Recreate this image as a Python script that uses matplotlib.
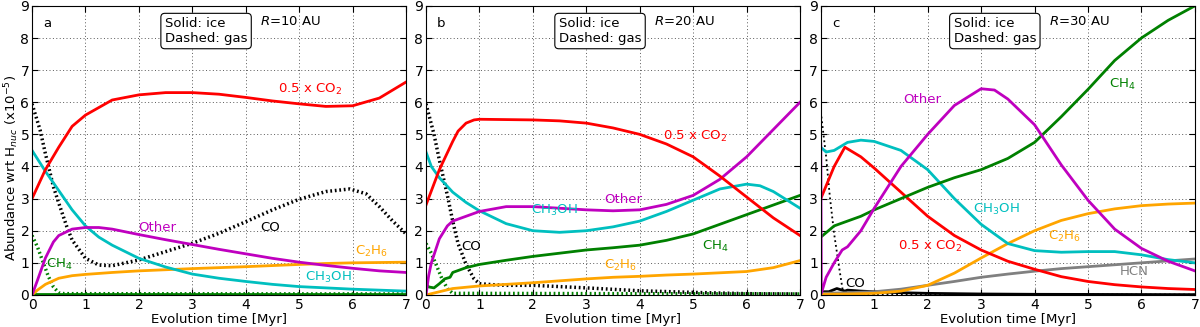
import numpy as np
import matplotlib
matplotlib.use('Agg')
from matplotlib import pyplot as plt

# ---------------- panel a : R = 10 AU ----------------
a_co2_t = [0, 0.25, 0.5, 0.75, 1, 1.5, 2, 2.5, 3, 3.5, 4, 4.5, 5, 5.5, 6, 6.5, 7]
a_co2 = [3.0, 3.9, 4.6, 5.25, 5.6, 6.07, 6.23, 6.3, 6.3, 6.25, 6.15, 6.04, 5.95, 5.87, 5.89, 6.13, 6.63]

a_cog_t = [0, 0.15, 0.25, 0.4, 0.5, 0.65, 0.75, 1, 1.25, 1.5, 2, 2.5, 3, 3.5, 4, 4.5, 5, 5.5, 5.95, 6.25, 6.5, 6.75, 7]
a_cog = [5.95, 5.14, 4.4, 3.37, 2.86, 2.13, 1.71, 1.14, 0.93, 0.91, 1.09, 1.35, 1.61, 1.92, 2.28, 2.65, 2.98, 3.22, 3.3, 3.15, 2.75, 2.3, 1.9]

a_meoh_t = [0, 0.25, 0.5, 0.75, 1, 1.25, 1.5, 2, 2.5, 3, 3.5, 4, 4.5, 5, 5.5, 6, 6.5, 7]
a_meoh = [4.5, 3.85, 3.25, 2.65, 2.15, 1.8, 1.55, 1.14, 0.87, 0.65, 0.52, 0.42, 0.33, 0.26, 0.22, 0.18, 0.15, 0.12]

a_oth_t = [0, 0.1, 0.25, 0.4, 0.5, 0.75, 1, 1.25, 1.5, 2, 2.5, 3, 3.5, 4, 4.5, 5, 5.5, 6, 6.5, 7]
a_oth = [0, 0.45, 1.15, 1.65, 1.85, 2.05, 2.1, 2.1, 2.05, 1.88, 1.72, 1.57, 1.42, 1.28, 1.14, 1.02, 0.92, 0.83, 0.75, 0.7]

a_c2h6_t = [0, 0.1, 0.25, 0.5, 0.75, 1, 1.5, 2, 3, 4, 5, 5.5, 6, 7]
a_c2h6 = [0, 0.15, 0.33, 0.52, 0.6, 0.64, 0.7, 0.75, 0.82, 0.88, 0.95, 0.98, 1.0, 1.02]

a_ch4g_t = [0, 0.1, 0.2, 0.3, 0.4, 0.5, 0.6, 7]
a_ch4g = [1.85, 1.5, 1.05, 0.6, 0.25, 0.07, 0.04, 0.03]

a_ch4_t = [0, 7]
a_ch4 = [0.02, 0.02]

# ---------------- panel b : R = 20 AU ----------------
b_co2_t = [0, 0.25, 0.5, 0.6, 0.75, 0.9, 1, 2, 2.5, 3, 3.5, 4, 4.5, 5, 5.5, 6, 6.5, 7]
b_co2 = [2.8, 3.9, 4.78, 5.1, 5.35, 5.45, 5.47, 5.45, 5.42, 5.35, 5.2, 5.0, 4.7, 4.3, 3.7, 3.05, 2.4, 1.85]

b_cog_t = [0, 0.15, 0.25, 0.4, 0.5, 0.6, 0.75, 0.9, 1, 1.25, 1.5, 2, 3, 4, 5, 6, 7]
b_cog = [5.95, 5.0, 4.2, 3.1, 2.3, 1.6, 0.95, 0.5, 0.35, 0.32, 0.3, 0.3, 0.22, 0.13, 0.08, 0.04, 0.03]

b_meoh_t = [0, 0.1, 0.25, 0.5, 0.75, 1, 1.5, 2, 2.5, 3, 3.5, 4, 4.5, 5, 5.5, 6, 6.25, 6.5, 7]
b_meoh = [4.45, 4.0, 3.65, 3.2, 2.88, 2.62, 2.22, 2.0, 1.95, 2.0, 2.12, 2.3, 2.6, 2.95, 3.3, 3.45, 3.4, 3.22, 2.7]

b_oth_t = [0, 0.05, 0.1, 0.25, 0.4, 0.5, 0.75, 1, 1.5, 2, 2.5, 3, 3.5, 4, 4.5, 5, 5.5, 6, 6.5, 7]
b_oth = [0, 0.6, 1.0, 1.75, 2.15, 2.3, 2.45, 2.6, 2.75, 2.75, 2.7, 2.65, 2.62, 2.65, 2.82, 3.1, 3.6, 4.3, 5.15, 6.0]

b_ch4_t = [0, 0.05, 0.15, 0.25, 0.35, 0.45, 0.5, 0.75, 1, 1.5, 2, 2.5, 3, 3.5, 4, 4.5, 5, 5.5, 6, 6.5, 7]
b_ch4 = [0.35, 0.25, 0.22, 0.35, 0.5, 0.55, 0.7, 0.85, 0.95, 1.08, 1.2, 1.3, 1.4, 1.47, 1.55, 1.7, 1.9, 2.2, 2.5, 2.8, 3.1]

b_ch4g_t = [0, 0.1, 0.2, 0.3, 0.4, 0.5, 7]
b_ch4g = [1.6, 1.3, 0.9, 0.5, 0.2, 0.05, 0.03]

b_c2h6_t = [0, 0.25, 0.5, 1, 1.5, 2, 2.5, 3, 3.5, 4, 4.5, 5, 5.5, 6, 6.5, 7]
b_c2h6 = [0, 0.1, 0.2, 0.28, 0.33, 0.38, 0.44, 0.5, 0.55, 0.58, 0.62, 0.65, 0.69, 0.73, 0.85, 1.07]

# ---------------- panel c : R = 30 AU ----------------
c_ch4_t = [0, 0.25, 0.5, 0.75, 1, 1.5, 2, 2.5, 3, 3.5, 4, 4.5, 5, 5.5, 6, 6.5, 7]
c_ch4 = [1.8, 2.15, 2.3, 2.45, 2.65, 3.0, 3.35, 3.65, 3.9, 4.25, 4.75, 5.55, 6.4, 7.3, 8.0, 8.55, 9.0]

c_oth_t = [0, 0.01, 0.1, 0.25, 0.4, 0.5, 0.75, 1, 1.25, 1.5, 2, 2.5, 3, 3.25, 3.5, 4, 4.5, 5, 5.5, 6, 6.5, 7]
c_oth = [4.7, 0.05, 0.55, 1.0, 1.4, 1.5, 2.0, 2.7, 3.35, 4.0, 5.0, 5.9, 6.42, 6.38, 6.1, 5.3, 4.05, 2.95, 2.05, 1.45, 1.05, 0.75]

c_meoh_t = [0, 0.1, 0.25, 0.5, 0.75, 1, 1.5, 2, 2.5, 3, 3.5, 4, 4.5, 5, 5.5, 6, 6.5, 7]
c_meoh = [4.6, 4.45, 4.5, 4.75, 4.82, 4.78, 4.5, 3.9, 3.0, 2.2, 1.6, 1.38, 1.33, 1.35, 1.35, 1.25, 1.1, 1.0]

c_co2_t = [0, 0.25, 0.45, 0.75, 1, 1.5, 2, 2.5, 3, 3.5, 4, 4.5, 5, 5.5, 6, 6.5, 7]
c_co2 = [3.0, 4.0, 4.6, 4.3, 3.95, 3.2, 2.45, 1.85, 1.4, 1.05, 0.8, 0.57, 0.42, 0.32, 0.25, 0.2, 0.17]

c_c2h6_t = [0, 0.5, 1, 1.5, 2, 2.5, 3, 3.5, 4, 4.5, 5, 5.5, 6, 6.5, 7]
c_c2h6 = [0.02, 0.03, 0.05, 0.12, 0.3, 0.68, 1.15, 1.6, 2.0, 2.32, 2.53, 2.68, 2.78, 2.83, 2.86]

c_hcn_t = [0, 0.5, 1, 1.5, 2, 2.5, 3, 3.5, 4, 4.5, 5, 5.5, 6, 6.5, 7]
c_hcn = [0.05, 0.07, 0.1, 0.18, 0.3, 0.42, 0.55, 0.65, 0.74, 0.82, 0.88, 0.94, 1.0, 1.06, 1.12]

c_co_t = [0, 0.15, 0.3, 0.4, 0.45, 0.5, 0.75, 1, 1.5, 2, 3, 4, 7]
c_co = [0.1, 0.1, 0.2, 0.15, 0.12, 0.15, 0.12, 0.1, 0.07, 0.05, 0.03, 0.02, 0.01]

c_cog_t = [0, 0.1, 0.17, 0.25, 0.35, 0.41, 0.5, 7]
c_cog = [5.7, 4.3, 3.05, 1.9, 0.78, 0.15, 0.03, 0.01]

RED, CYAN, MAG, GREEN, ORANGE, GRAY = '#ff0000', '#00bfbf', '#bf00bf', '#008000', '#ffa500', '#808080'
thick_dot = (0, (0.5, 0.8))

fig = plt.figure(figsize=(12, 3.27), dpi=100)
W = 0.3117
lefts = [0.0267, 0.355, 0.684]
axs = [fig.add_axes([l, 0.098, W, 0.884]) for l in lefts]

ax = axs[0]
ax.plot(a_ch4_t, a_ch4, color=GREEN, lw=2)
ax.plot(a_ch4g_t, a_ch4g, color=GREEN, lw=2.5, ls=thick_dot)
ax.plot(a_cog_t, a_cog, color='k', lw=2.5, ls=thick_dot)
ax.plot(a_c2h6_t, a_c2h6, color=ORANGE, lw=2)
ax.plot(a_meoh_t, a_meoh, color=CYAN, lw=2)
ax.plot(a_oth_t, a_oth, color=MAG, lw=2)
ax.plot(a_co2_t, a_co2, color=RED, lw=2)
ax.text(5.2, 6.4, '0.5 x CO$_2$', color=RED, ha='center', va='center', fontsize=9.5)
ax.text(2.35, 2.1, 'Other', color=MAG, ha='center', va='center', fontsize=9.5)
ax.text(4.45, 2.1, 'CO', color='k', ha='center', va='center', fontsize=9.5)
ax.text(6.35, 1.35, 'C$_2$H$_6$', color=ORANGE, ha='center', va='center', fontsize=9.5)
ax.text(5.55, 0.55, 'CH$_3$OH', color=CYAN, ha='center', va='center', fontsize=9.5)
ax.text(0.52, 0.95, 'CH$_4$', color=GREEN, ha='center', va='center', fontsize=9.5)

ax = axs[1]
ax.plot(b_ch4g_t, b_ch4g, color=GREEN, lw=2.5, ls=thick_dot)
ax.plot(b_cog_t, b_cog, color='k', lw=2.5, ls=thick_dot)
ax.plot(b_c2h6_t, b_c2h6, color=ORANGE, lw=2)
ax.plot(b_ch4_t, b_ch4, color=GREEN, lw=2)
ax.plot(b_meoh_t, b_meoh, color=CYAN, lw=2)
ax.plot(b_oth_t, b_oth, color=MAG, lw=2)
ax.plot(b_co2_t, b_co2, color=RED, lw=2)
ax.text(5.04, 4.93, '0.5 x CO$_2$', color=RED, ha='center', va='center', fontsize=9.5)
ax.text(3.7, 2.98, 'Other', color=MAG, ha='center', va='center', fontsize=9.5)
ax.text(2.4, 2.62, 'CH$_3$OH', color=CYAN, ha='center', va='center', fontsize=9.5)
ax.text(0.84, 1.5, 'CO', color='k', ha='center', va='center', fontsize=9.5)
ax.text(5.42, 1.5, 'CH$_4$', color=GREEN, ha='center', va='center', fontsize=9.5)
ax.text(3.64, 0.93, 'C$_2$H$_6$', color=ORANGE, ha='center', va='center', fontsize=9.5)

ax = axs[2]
ax.plot(c_cog_t, c_cog, color='k', lw=1.3, ls=':')
ax.plot(c_co_t, c_co, color='k', lw=2)
ax.plot(c_hcn_t, c_hcn, color=GRAY, lw=2)
ax.plot(c_c2h6_t, c_c2h6, color=ORANGE, lw=2)
ax.plot(c_co2_t, c_co2, color=RED, lw=2)
ax.plot(c_meoh_t, c_meoh, color=CYAN, lw=2)
ax.plot(c_ch4_t, c_ch4, color=GREEN, lw=2)
ax.plot(c_oth_t, c_oth, color=MAG, lw=2)
ax.text(5.65, 6.54, 'CH$_4$', color=GREEN, ha='center', va='center', fontsize=9.5)
ax.text(1.89, 6.07, 'Other', color=MAG, ha='center', va='center', fontsize=9.5)
ax.text(3.29, 2.65, 'CH$_3$OH', color=CYAN, ha='center', va='center', fontsize=9.5)
ax.text(4.56, 1.82, 'C$_2$H$_6$', color=ORANGE, ha='center', va='center', fontsize=9.5)
ax.text(2.04, 1.5, '0.5 x CO$_2$', color=RED, ha='center', va='center', fontsize=9.5)
ax.text(5.87, 0.73, 'HCN', color=GRAY, ha='center', va='center', fontsize=9.5)
ax.text(0.64, 0.36, 'CO', color='k', ha='center', va='center', fontsize=9.5)

for ax, tag, rad in zip(axs, ['a', 'b', 'c'], [10, 20, 30]):
    ax.set_xlim(0, 7)
    ax.set_ylim(0, 9)
    ax.set_xticks(range(8))
    ax.set_yticks(range(10))
    ax.grid(True, ls=(0, (1, 2.5)), color='0.35', lw=0.7)
    ax.tick_params(direction='in', top=True, right=True, length=4, labelsize=10, pad=2)
    ax.set_xlabel('Evolution time [Myr]', fontsize=9.5, labelpad=1)
    ax.text(0.04, 0.94, tag, transform=ax.transAxes, ha='center', va='center', fontsize=9.5)
    ax.text(0.355, 0.913, 'Solid: ice\nDashed: gas', transform=ax.transAxes, ha='left', va='center',
            fontsize=9.5, linespacing=1.15,
            bbox=dict(boxstyle='round,pad=0.3', fc='white', ec='k', lw=0.8))
    ax.text(0.61, 0.945, '$R$=%d AU' % rad, transform=ax.transAxes, ha='left', va='center', fontsize=9.5)

axs[0].set_ylabel('Abundance wrt H$_{nuc}$ (x10$^{-5}$)', fontsize=9.5)
axs[0].yaxis.set_label_coords(-0.03, 0.44)

plt.savefig('out.png', dpi=100)
